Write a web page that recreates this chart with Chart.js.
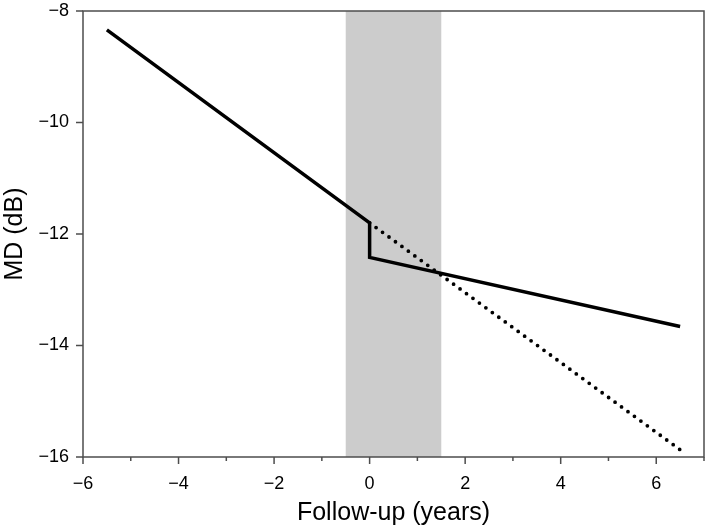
<!DOCTYPE html>
<html>
<head>
<meta charset="utf-8">
<script src="https://cdn.jsdelivr.net/npm/chart.js@4"></script>
<style>
  html, body { margin: 0; padding: 0; background: #fff; }
  #wrap { width: 709px; height: 528px; }
</style>
</head>
<body>
<div id="wrap"><canvas id="chart" width="709" height="528"></canvas></div>
<script>
// Fitted MD trend before and after the intervention (years, dB)
const solidX = [-5.5, 0, 0, 6.5];
const solidY = [-8.34, -11.8, -12.42, -13.66];
// Extrapolated pre-intervention trend
const dottedX = [0, 6.5];
const dottedY = [-11.8, -15.87];
// Shaded intervention window
const bandX = [-0.5, 1.5];

const xTicks = [-6, -4, -2, 0, 2, 4, 6];
const yTicks = [-16, -14, -12, -10, -8];

const tickFont = { family: "Liberation Sans, Arial, sans-serif", size: 18 };
const titleFont = { family: "Liberation Sans, Arial, sans-serif", size: 25 };

function toPoints(xs, ys) {
  return xs.map((x, i) => ({ x: x, y: ys[i] }));
}
function minus(v) {
  return String(v).replace("-", "\u2212");
}

// draws the gray band under the lines
const bandPlugin = {
  id: "band",
  beforeDatasetsDraw(chart) {
    const { ctx, chartArea, scales } = chart;
    const x0 = scales.x.getPixelForValue(bandX[0]);
    const x1 = scales.x.getPixelForValue(bandX[1]);
    ctx.save();
    ctx.fillStyle = "#cccccc";
    ctx.fillRect(x0, chartArea.top, x1 - x0, chartArea.bottom - chartArea.top);
    ctx.restore();
  },
};

// frame plus outward ticks (major and minor)
const framePlugin = {
  id: "frame",
  afterDraw(chart) {
    const { ctx, chartArea, scales } = chart;
    ctx.save();
    ctx.strokeStyle = "#4d4d4d";
    ctx.lineWidth = 1.5;
    ctx.strokeRect(chartArea.left, chartArea.top, chartArea.right - chartArea.left, chartArea.bottom - chartArea.top);
    ctx.beginPath();
    for (let v = -6; v <= 7; v++) {
      const px = scales.x.getPixelForValue(v);
      const len = v % 2 === 0 ? 7 : 4;
      ctx.moveTo(px, chartArea.bottom);
      ctx.lineTo(px, chartArea.bottom + len);
    }
    yTicks.forEach((v) => {
      const py = scales.y.getPixelForValue(v);
      ctx.moveTo(chartArea.left, py);
      ctx.lineTo(chartArea.left - 7, py);
    });
    ctx.stroke();
    ctx.restore();
  },
};

new Chart(document.getElementById("chart"), {
  type: "scatter",
  data: {
    datasets: [
      {
        data: toPoints(solidX, solidY),
        showLine: true,
        borderColor: "#000",
        borderWidth: 3.5,
        pointRadius: 0,
        borderJoinStyle: "miter",
      },
      {
        data: toPoints(dottedX, dottedY),
        showLine: true,
        borderColor: "#000",
        borderWidth: 3.8,
        borderDash: [0, 8],
        borderDashOffset: -8,
        borderCapStyle: "round",
        pointRadius: 0,
      },
    ],
  },
  options: {
    responsive: false,
    animation: false,
    layout: { padding: { top: 11, right: 5, left: 0, bottom: 0 } },
    plugins: { legend: { display: false }, tooltip: { enabled: false } },
    scales: {
      x: {
        type: "linear",
        min: -6,
        max: 7,
        border: { display: false },
        grid: { display: false, drawTicks: false },
        afterBuildTicks: (scale) => {
          scale.ticks = xTicks.map((v) => ({ value: v }));
        },
        afterFit: (scale) => {
          scale.height = 71;
          scale.paddingLeft = 0;
          scale.paddingRight = 0;
        },
        ticks: {
          font: tickFont,
          color: "#000",
          padding: 16,
          autoSkip: false,
          maxRotation: 0,
          callback: (v) => minus(v),
        },
        title: {
          display: true,
          text: "Follow-up (years)",
          font: titleFont,
          color: "#000",
          padding: { top: 2, bottom: 0 },
        },
      },
      y: {
        min: -16,
        max: -8,
        border: { display: false },
        grid: { display: false, drawTicks: false },
        afterBuildTicks: (scale) => {
          scale.ticks = yTicks.map((v) => ({ value: v }));
        },
        afterFit: (scale) => {
          scale.width = 83;
          scale.paddingTop = 0;
          scale.paddingBottom = 0;
        },
        ticks: {
          font: tickFont,
          color: "#000",
          padding: 14,
          callback: (v) => minus(v),
        },
        title: {
          display: true,
          text: "MD (dB)",
          font: titleFont,
          color: "#000",
          padding: { top: 0, bottom: 0 },
        },
      },
    },
  },
  plugins: [bandPlugin, framePlugin],
});
</script>
</body>
</html>
